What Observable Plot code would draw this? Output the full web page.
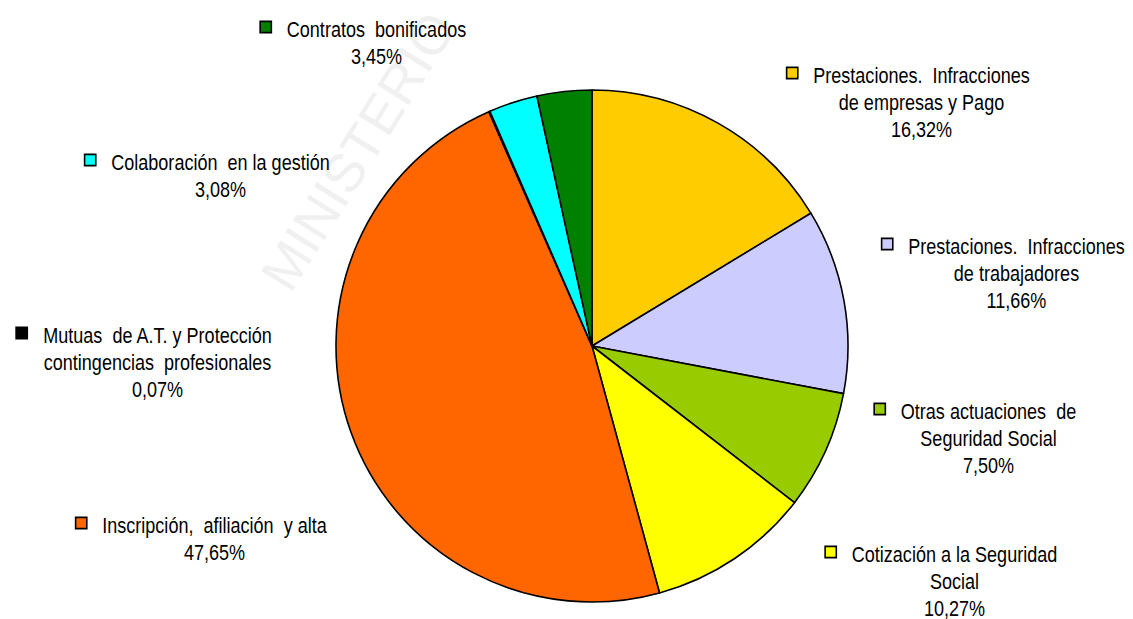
<!DOCTYPE html>
<html>
<head>
<meta charset="utf-8">
<script src="https://cdn.jsdelivr.net/npm/d3@7"></script>
<script src="https://cdn.jsdelivr.net/npm/@observablehq/plot@0.6"></script>
<style>
  html, body { margin: 0; padding: 0; background: #ffffff; }
  #chart svg { display: block; }
</style>
</head>
<body>
<div id="chart"></div>
<script>
// ---------- DATA ----------
const categories = [
  "Prestaciones. Infracciones de empresas y Pago",
  "Prestaciones. Infracciones de trabajadores",
  "Otras actuaciones de Seguridad Social",
  "Cotización a la Seguridad Social",
  "Inscripción, afiliación y alta",
  "Mutuas de A.T. y Protección contingencias profesionales",
  "Colaboración en la gestión",
  "Contratos bonificados"
];
const values = [16.32, 11.66, 7.50, 10.27, 47.65, 0.07, 3.08, 3.45];
const colors = ["#FFCC00", "#CCCCFF", "#99CC00", "#FFFF00", "#FF6600", "#000000", "#00FFFF", "#008000"];
const labelLines = [
  ["Prestaciones.  Infracciones", "de empresas y Pago"],
  ["Prestaciones.  Infracciones", "de trabajadores"],
  ["Otras actuaciones  de", "Seguridad Social"],
  ["Cotización a la Seguridad", "Social"],
  ["Inscripción,  afiliación  y alta"],
  ["Mutuas  de A.T. y Protección", "contingencias  profesionales"],
  ["Colaboración  en la gestión"],
  ["Contratos  bonificados"]
];
const watermark = "MINISTERIO";

// ---------- LAYOUT ----------
const W = 1133, H = 619;
const pieCenter = [592, 346];
const pieRadius = 256;
const labelAnchors = [[921, 82], [1016, 253], [988, 418], [954, 561], [214, 532], [157, 342], [220, 169], [376, 36]];
const fontSize = 22, lineHeight = 27.3;
const watermarkAnchor = [290, 294];

// font detection (narrow font availability)
const ctx = document.createElement("canvas").getContext("2d");
function widthOf(str, font) { ctx.font = font; return ctx.measureText(str).width; }
const probe = "Prestaciones Infracciones";
const hasNarrow = Math.abs(widthOf(probe, `${fontSize}px "Liberation Sans Narrow", monospace`) - widthOf(probe, `${fontSize}px monospace`)) > 0.5;
const fontFamily = hasNarrow ? `"Liberation Sans Narrow", "Arial Narrow", sans-serif` : `"Liberation Sans", Arial, sans-serif`;
const squeeze = hasNarrow ? 1 : 0.82;
const nbsp = s => s.replace(/ {2}/g, "\u00A0 ");

const fmt = v => v.toFixed(2).replace(".", ",") + "%";

// label text rows
const textRows = [];
const keyRows = [];
categories.forEach((c, i) => {
  const [cx, y0] = labelAnchors[i];
  const lines = labelLines[i].map(nbsp).concat([fmt(values[i])]);
  lines.forEach((t, j) => textRows.push({text: t, x: cx, y: y0 + j * lineHeight}));
  const w1 = widthOf(lines[0], `${fontSize}px ${fontFamily}`) * squeeze;
  keyRows.push({x: cx - w1 / 2 - 15 - 6, y: y0 - 9.5, color: colors[i], name: c});
});

// pie mark (function mark rendered inside Plot)
function pieMark(index, scales, vals, dimensions, context) {
  const cx = scales.x ? scales.x(pieCenter[0]) : pieCenter[0];
  const cy = scales.y ? scales.y(pieCenter[1]) : pieCenter[1];
  const arcs = d3.pie().sort(null).value(d => d)(values);
  const arc = d3.arc().innerRadius(0).outerRadius(pieRadius);
  const g = d3.create("svg:g").attr("transform", `translate(${cx},${cy})`);
  g.selectAll("path").data(arcs).join("path")
    .attr("d", arc)
    .attr("fill", (d, i) => colors[i])
    .attr("stroke", "#000")
    .attr("stroke-width", 1.6)
    .attr("stroke-linejoin", "round");
  return g.node();
}

const plot = Plot.plot({
  width: W,
  height: H,
  margin: 0,
  axis: null,
  x: {type: "identity", axis: null},
  y: {type: "identity", axis: null},
  style: {background: "#ffffff", overflow: "visible"},
  marks: [
    Plot.text([watermark], {
      x: () => watermarkAnchor[0], y: () => watermarkAnchor[1],
      text: d => d, rotate: -58, textAnchor: "start", lineAnchor: "bottom",
      fontSize: 54, fontFamily: `"Liberation Sans", Arial, sans-serif`, fill: "#f0f0f0"
    }),
    pieMark,
    Plot.text(textRows, {
      x: "x", y: "y", text: "text", textAnchor: "middle", lineAnchor: "bottom",
      fontSize, fontFamily, fill: "#000", ariaDescription: "labels"
    }),
    Plot.dot(keyRows, {
      x: "x", y: "y", symbol: "square", r: 6.3, fill: "color", stroke: "#000", strokeWidth: 1.6
    })
  ]
});

if (squeeze !== 1) {
  plot.querySelectorAll('g[aria-description="labels"] text').forEach(t => {
    const tr = t.getAttribute("transform") || "";
    if (tr) t.setAttribute("transform", tr + ` scale(${squeeze},1)`);
    else {
      const x = t.getAttribute("x"), y = t.getAttribute("y");
      t.removeAttribute("x"); t.removeAttribute("y");
      t.setAttribute("transform", `translate(${x},${y}) scale(${squeeze},1)`);
    }
  });
}
document.getElementById("chart").appendChild(plot);
</script>
</body>
</html>
